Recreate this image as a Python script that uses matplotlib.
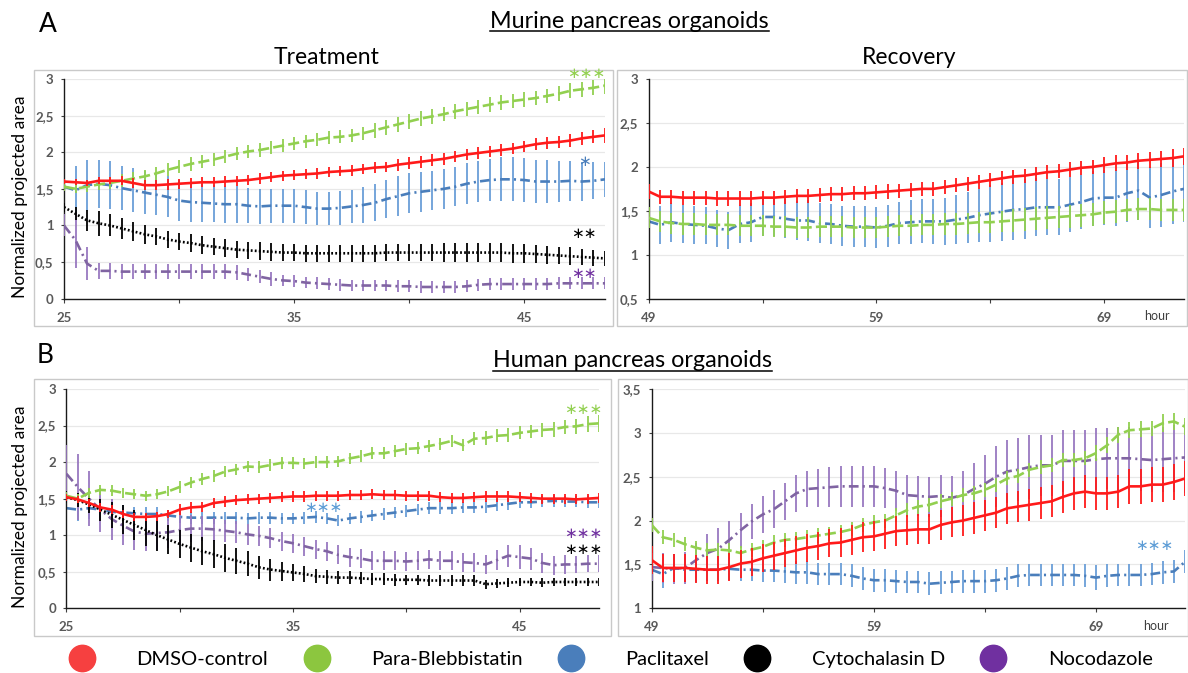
import numpy as np
import matplotlib
matplotlib.use("Agg")
import matplotlib.pyplot as plt
from matplotlib.patches import Rectangle
from matplotlib.lines import Line2D

plt.rcParams['lines.scale_dashes'] = False
plt.rcParams['font.family'] = ['Lato', 'DejaVu Sans']

# ---------------- data ----------------
hours_treat = np.arange(25, 49, 0.5)        # 25 .. 48.5
hours_rec_A = np.arange(49, 73, 0.5)        # 49 .. 72.5
hours_rec_B = np.arange(49, 73.5, 0.5)      # 49 .. 73

series_names = ["DMSO-control", "Para-Blebbistatin", "Paclitaxel", "Cytochalasin D", "Nocodazole"]

# ---- A: murine, treatment ----
A_t_dmso = [1.60,1.59,1.58,1.61,1.61,1.61,1.58,1.55,1.55,1.56, 1.57,1.58,1.59,1.59,1.60,1.61,1.62,1.64,1.66,1.68,
            1.69,1.70,1.71,1.73,1.74,1.75,1.77,1.79,1.80,1.83, 1.85,1.87,1.89,1.91,1.94,1.97,1.99,2.01,2.03,2.05,
            2.08,2.11,2.13,2.14,2.16,2.19,2.21,2.23]
A_t_dmso_err = [0.04,0.04,0.04,0.05,0.05,0.06,0.07,0.07,0.07,0.07, 0.07,0.07,0.07,0.07,0.07,0.07,0.07,0.07,0.07,0.07,
                0.07,0.07,0.07,0.07,0.07,0.07,0.07,0.07,0.07,0.08, 0.08,0.08,0.08,0.08,0.08,0.08,0.08,0.08,0.08,0.08,
                0.08,0.08,0.08,0.08,0.09,0.09,0.09,0.10]
A_t_blebb = [1.53,1.50,1.53,1.56,1.58,1.61,1.64,1.67,1.71,1.76, 1.80,1.84,1.87,1.90,1.94,1.98,2.01,2.03,2.06,2.09,
             2.12,2.15,2.17,2.20,2.21,2.23,2.26,2.30,2.34,2.38, 2.42,2.46,2.49,2.52,2.56,2.59,2.62,2.65,2.68,2.70,
             2.72,2.74,2.77,2.80,2.84,2.86,2.88,2.91]
A_t_blebb_err = [0.06,0.06,0.07,0.08,0.08,0.09,0.09,0.09,0.09,0.09, 0.09,0.09,0.09,0.09,0.09,0.09,0.09,0.09,0.09,0.09,
                 0.09,0.09,0.09,0.09,0.09,0.09,0.09,0.10,0.10,0.10, 0.10,0.10,0.10,0.10,0.10,0.10,0.10,0.10,0.10,0.10,
                 0.10,0.10,0.10,0.10,0.10,0.10,0.10,0.11]
A_t_pacli = [1.53,1.48,1.55,1.57,1.55,1.51,1.48,1.45,1.42,1.39, 1.34,1.32,1.31,1.30,1.29,1.29,1.27,1.26,1.27,1.27,
             1.27,1.25,1.23,1.23,1.24,1.26,1.28,1.31,1.36,1.40, 1.44,1.46,1.48,1.50,1.53,1.57,1.60,1.62,1.63,1.63,
             1.62,1.60,1.60,1.60,1.61,1.60,1.61,1.63]
A_t_pacli_err = [0.28,0.33,0.35,0.33,0.33,0.30,0.30,0.29,0.28,0.28, 0.28,0.27,0.26,0.25,0.25,0.25,0.24,0.24,0.23,0.23,
                 0.23,0.23,0.23,0.23,0.23,0.23,0.24,0.25,0.26,0.27, 0.27,0.27,0.27,0.27,0.27,0.28,0.28,0.29,0.30,0.30,
                 0.30,0.30,0.29,0.28,0.27,0.26,0.25,0.24]
A_t_cytoD = [1.25,1.16,1.07,1.03,1.00,0.96,0.92,0.88,0.85,0.81, 0.78,0.76,0.73,0.71,0.69,0.67,0.66,0.65,0.64,0.63,
             0.63,0.62,0.62,0.62,0.62,0.62,0.62,0.62,0.63,0.63, 0.63,0.63,0.63,0.63,0.63,0.63,0.63,0.63,0.63,0.62,
             0.62,0.61,0.60,0.59,0.58,0.57,0.56,0.55]
A_t_cytoD_err = [0.06,0.09,0.14,0.17,0.15,0.14,0.13,0.13,0.12,0.12, 0.12,0.12,0.12,0.12,0.12,0.12,0.12,0.12,0.12,0.12,
                 0.12,0.12,0.12,0.12,0.12,0.12,0.12,0.12,0.12,0.12, 0.12,0.12,0.12,0.13,0.13,0.13,0.13,0.13,0.13,0.13,
                 0.13,0.12,0.12,0.12,0.12,0.11,0.11,0.10]
A_t_noco = [1.00,0.80,0.48,0.38,0.38,0.37,0.37,0.37,0.37,0.37, 0.37,0.37,0.37,0.37,0.37,0.36,0.33,0.30,0.27,0.25,
            0.24,0.22,0.21,0.20,0.19,0.18,0.18,0.18,0.18,0.17, 0.17,0.16,0.16,0.16,0.16,0.17,0.19,0.20,0.20,0.20,
            0.20,0.20,0.20,0.21,0.21,0.21,0.21,0.21]
A_t_noco_err = [0.15,0.38,0.23,0.11,0.11,0.10,0.10,0.10,0.10,0.10, 0.10,0.10,0.10,0.10,0.10,0.10,0.09,0.09,0.09,0.08,
                0.08,0.08,0.08,0.08,0.08,0.08,0.08,0.08,0.08,0.08, 0.08,0.08,0.08,0.08,0.08,0.08,0.08,0.08,0.08,0.08,
                0.08,0.08,0.08,0.08,0.08,0.08,0.08,0.08]

# ---- A: murine, recovery ----
A_r_dmso = [1.72,1.66,1.66,1.65,1.65,1.65,1.64,1.64,1.64,1.64, 1.65,1.65,1.66,1.67,1.67,1.68,1.69,1.69,1.70,1.70,
            1.71,1.72,1.73,1.74,1.75,1.75,1.77,1.79,1.81,1.83, 1.85,1.87,1.89,1.90,1.92,1.94,1.95,1.97,1.99,2.00,
            2.02,2.04,2.05,2.07,2.08,2.09,2.10,2.12]
A_r_dmso_err = [0.09,0.08,0.08,0.08,0.08,0.08,0.08,0.08,0.08,0.08, 0.08,0.08,0.08,0.08,0.08,0.08,0.08,0.08,0.08,0.08,
                0.08,0.08,0.08,0.08,0.08,0.08,0.08,0.08,0.08,0.08, 0.08,0.08,0.08,0.08,0.08,0.08,0.08,0.08,0.08,0.08,
                0.09,0.09,0.09,0.09,0.09,0.09,0.10,0.10]
A_r_blebb = [1.42,1.38,1.36,1.35,1.35,1.34,1.34,1.34,1.33,1.33, 1.33,1.32,1.32,1.31,1.31,1.32,1.32,1.32,1.31,1.31,
             1.31,1.32,1.33,1.33,1.34,1.34,1.35,1.35,1.36,1.37, 1.37,1.38,1.39,1.40,1.41,1.42,1.43,1.44,1.45,1.46,
             1.48,1.49,1.51,1.52,1.52,1.51,1.51,1.51]
A_r_blebb_err = [0.12,0.12,0.12,0.12,0.12,0.12,0.12,0.12,0.12,0.12, 0.12,0.12,0.12,0.12,0.12,0.12,0.12,0.12,0.12,0.12,
                 0.12,0.12,0.12,0.12,0.12,0.12,0.12,0.12,0.12,0.12, 0.12,0.12,0.13,0.13,0.13,0.13,0.13,0.13,0.13,0.13,
                 0.13,0.13,0.13,0.13,0.13,0.13,0.13,0.13]
A_r_pacli = [1.38,1.34,1.37,1.35,1.34,1.33,1.30,1.28,1.35,1.37, 1.43,1.43,1.41,1.39,1.39,1.36,1.35,1.33,1.32,1.32,
             1.31,1.33,1.36,1.37,1.38,1.38,1.38,1.40,1.42,1.45, 1.47,1.49,1.51,1.52,1.54,1.54,1.54,1.57,1.60,1.64,
             1.65,1.65,1.70,1.73,1.65,1.68,1.72,1.75]
A_r_pacli_err = [0.23,0.22,0.22,0.22,0.22,0.21,0.21,0.21,0.22,0.22, 0.22,0.22,0.22,0.22,0.23,0.23,0.23,0.23,0.23,0.23,
                 0.23,0.24,0.24,0.25,0.25,0.26,0.27,0.28,0.29,0.30, 0.32,0.33,0.34,0.34,0.33,0.32,0.32,0.31,0.31,0.31,
                 0.31,0.32,0.33,0.34,0.35,0.36,0.37,0.38]

# ---- B: human, treatment ----
B_t_dmso = [1.52,1.49,1.44,1.38,1.35,1.29,1.25,1.25,1.26,1.29, 1.35,1.38,1.39,1.44,1.46,1.48,1.49,1.50,1.51,1.52,
            1.53,1.53,1.54,1.54,1.54,1.55,1.55,1.56,1.55,1.55, 1.54,1.54,1.54,1.52,1.51,1.51,1.52,1.53,1.53,1.53,
            1.52,1.51,1.50,1.50,1.50,1.49,1.50,1.51]
B_t_dmso_err = [0.05,0.05,0.05,0.06,0.06,0.06,0.06,0.06,0.06,0.06, 0.07,0.07,0.07,0.07,0.07,0.07,0.07,0.07,0.07,0.07,
                0.07,0.07,0.07,0.07,0.07,0.07,0.07,0.07,0.07,0.07, 0.07,0.07,0.07,0.07,0.07,0.07,0.07,0.07,0.07,0.07,
                0.07,0.07,0.07,0.07,0.07,0.07,0.07,0.07]
B_t_blebb = [1.54,1.50,1.58,1.62,1.61,1.58,1.56,1.54,1.56,1.60, 1.66,1.72,1.77,1.81,1.87,1.90,1.94,1.93,1.96,1.99,
             1.99,1.98,2.00,2.00,2.01,2.05,2.08,2.12,2.12,2.15, 2.18,2.19,2.22,2.25,2.29,2.23,2.32,2.33,2.36,2.37,
             2.40,2.42,2.44,2.45,2.48,2.49,2.52,2.53]
B_t_blebb_err = [0.05,0.06,0.07,0.07,0.07,0.07,0.07,0.07,0.07,0.07, 0.08,0.08,0.08,0.08,0.08,0.08,0.08,0.08,0.08,0.08,
                 0.08,0.08,0.08,0.08,0.08,0.08,0.08,0.08,0.08,0.08, 0.08,0.08,0.08,0.08,0.08,0.08,0.09,0.09,0.09,0.09,
                 0.09,0.09,0.10,0.10,0.10,0.10,0.11,0.12]
B_t_pacli = [1.37,1.35,1.37,1.35,1.32,1.31,1.30,1.29,1.29,1.27, 1.25,1.24,1.24,1.24,1.24,1.24,1.23,1.24,1.24,1.23,
             1.23,1.24,1.25,1.23,1.20,1.23,1.25,1.27,1.29,1.31, 1.33,1.35,1.37,1.37,1.37,1.38,1.38,1.39,1.41,1.43,
             1.45,1.45,1.46,1.47,1.46,1.46,1.45,1.45]
B_t_pacli_err = [0.15,0.16,0.15,0.13,0.11,0.10,0.09,0.09,0.09,0.08, 0.08,0.08,0.08,0.08,0.08,0.08,0.08,0.08,0.08,0.08,
                 0.08,0.08,0.08,0.08,0.08,0.08,0.08,0.08,0.08,0.08, 0.08,0.08,0.08,0.08,0.08,0.08,0.08,0.08,0.08,0.08,
                 0.08,0.08,0.08,0.08,0.08,0.08,0.08,0.08]
B_t_cytoD = [1.52,1.48,1.42,1.35,1.28,1.21,1.14,1.07,1.00,0.94, 0.88,0.83,0.78,0.74,0.69,0.65,0.61,0.56,0.53,0.51,
             0.49,0.47,0.44,0.43,0.42,0.42,0.41,0.40,0.40,0.39, 0.39,0.39,0.38,0.38,0.38,0.38,0.38,0.33,0.34,0.35,
             0.36,0.36,0.35,0.36,0.36,0.36,0.36,0.36]
B_t_cytoD_err = [0.08,0.10,0.12,0.15,0.18,0.20,0.21,0.22,0.21,0.20, 0.19,0.19,0.19,0.19,0.19,0.18,0.17,0.16,0.15,0.13,
                 0.12,0.11,0.10,0.10,0.09,0.09,0.08,0.08,0.08,0.08, 0.07,0.07,0.07,0.07,0.07,0.07,0.07,0.06,0.06,0.06,
                 0.06,0.06,0.06,0.06,0.06,0.06,0.06,0.06]
B_t_noco = [1.84,1.66,1.50,1.35,1.22,1.13,1.05,1.02,1.03,1.04, 1.07,1.09,1.09,1.08,1.06,1.04,1.01,0.99,0.96,0.92,
            0.89,0.85,0.81,0.78,0.73,0.70,0.68,0.65,0.65,0.65, 0.64,0.65,0.67,0.65,0.65,0.63,0.62,0.60,0.66,0.72,
            0.70,0.68,0.62,0.59,0.60,0.60,0.61,0.61]
B_t_noco_err = [0.40,0.45,0.38,0.30,0.28,0.26,0.25,0.24,0.23,0.22, 0.20,0.18,0.17,0.16,0.15,0.15,0.15,0.14,0.14,0.13,
                0.13,0.13,0.13,0.13,0.13,0.13,0.13,0.13,0.13,0.13, 0.13,0.13,0.13,0.13,0.13,0.13,0.13,0.13,0.14,0.15,
                0.16,0.15,0.14,0.13,0.13,0.12,0.12,0.12]

# ---- B: human, recovery ----
B_r_dmso = [1.55,1.46,1.46,1.46,1.45,1.44,1.44,1.47,1.51,1.53, 1.57,1.60,1.63,1.66,1.69,1.71,1.74,1.75,1.78,1.81,
            1.82,1.85,1.88,1.89,1.90,1.90,1.95,1.98,2.00,2.03, 2.06,2.09,2.14,2.16,2.18,2.20,2.22,2.27,2.31,2.33,
            2.31,2.31,2.33,2.39,2.39,2.41,2.41,2.44,2.48]
B_r_dmso_err = [0.16,0.16,0.16,0.16,0.16,0.16,0.16,0.16,0.16,0.16, 0.16,0.16,0.16,0.16,0.16,0.16,0.16,0.17,0.17,0.17,
                0.17,0.17,0.17,0.17,0.17,0.17,0.17,0.17,0.18,0.18, 0.18,0.18,0.18,0.18,0.18,0.18,0.18,0.18,0.19,0.19,
                0.19,0.19,0.19,0.20,0.20,0.20,0.20,0.20,0.20]
B_r_blebb = [1.95,1.81,1.78,1.73,1.69,1.66,1.67,1.66,1.63,1.67, 1.70,1.75,1.78,1.79,1.81,1.83,1.85,1.87,1.90,1.95,
             1.98,2.00,2.06,2.12,2.16,2.18,2.22,2.25,2.29,2.31, 2.35,2.41,2.48,2.51,2.58,2.61,2.63,2.69,2.69,2.71,
             2.77,2.86,2.98,3.03,3.04,3.05,3.11,3.13,3.07]
B_r_blebb_err = [0.08,0.08,0.08,0.08,0.08,0.08,0.08,0.08,0.08,0.08, 0.08,0.08,0.08,0.08,0.08,0.08,0.08,0.08,0.08,0.08,
                 0.08,0.08,0.08,0.08,0.08,0.08,0.08,0.08,0.08,0.08, 0.08,0.08,0.08,0.08,0.08,0.08,0.08,0.08,0.08,0.08,
                 0.09,0.09,0.09,0.09,0.09,0.09,0.10,0.10,0.10]
B_r_pacli = [1.44,1.39,1.46,1.44,1.44,1.44,1.44,1.45,1.44,1.44, 1.43,1.43,1.42,1.41,1.41,1.39,1.39,1.39,1.37,1.34,
             1.32,1.32,1.31,1.30,1.30,1.28,1.29,1.30,1.31,1.31, 1.31,1.32,1.34,1.37,1.38,1.38,1.38,1.38,1.38,1.37,
             1.35,1.37,1.38,1.38,1.38,1.39,1.41,1.42,1.53]
B_r_pacli_err = [0.15,0.16,0.14,0.14,0.14,0.13,0.13,0.13,0.13,0.13, 0.13,0.13,0.13,0.13,0.13,0.13,0.13,0.13,0.13,0.13,
                 0.13,0.13,0.13,0.13,0.13,0.13,0.13,0.13,0.13,0.13, 0.13,0.13,0.13,0.13,0.13,0.13,0.13,0.13,0.13,0.13,
                 0.14,0.13,0.13,0.13,0.13,0.13,0.13,0.13,0.13]
B_r_noco = [1.47,1.46,1.45,1.46,1.55,1.63,1.68,1.78,1.89,1.99, 2.07,2.13,2.22,2.31,2.36,2.37,2.38,2.39,2.39,2.39,
            2.39,2.37,2.34,2.29,2.28,2.27,2.28,2.26,2.29,2.36, 2.42,2.50,2.56,2.58,2.61,2.63,2.63,2.68,2.68,2.68,
            2.70,2.71,2.71,2.71,2.70,2.69,2.70,2.71,2.72]
B_r_noco_err = [0.16,0.17,0.17,0.18,0.20,0.22,0.24,0.22,0.20,0.20, 0.21,0.22,0.21,0.21,0.21,0.22,0.23,0.23,0.23,0.23,
                0.23,0.23,0.23,0.23,0.23,0.23,0.24,0.25,0.27,0.30, 0.33,0.35,0.36,0.36,0.36,0.35,0.35,0.35,0.35,0.35,
                0.35,0.35,0.36,0.36,0.36,0.36,0.37,0.38,0.40]

# y-tick labels (comma decimal)
yt_A_treat = ["0", "0,5", "1", "1,5", "2", "2,5", "3"]
yt_A_rec = ["0,5", "1", "1,5", "2", "2,5", "3"]
yt_B_rec = ["1", "1,5", "2", "2,5", "3", "3,5"]

# ---------------- styles ----------------
RED = '#FF1A1A'
GREEN = '#92D050'
BLUE = '#4A7EBB'
BLUE_E = '#6A9ED8'
BLACK = '#000000'
PURPLE = '#8064A2'
PURPLE_E = '#9878C0'
STYLE = {
    'DMSO-control': dict(color=RED, ecolor=RED, dashes=None, z=6),
    'Para-Blebbistatin': dict(color=GREEN, ecolor=GREEN, dashes=(8, 3), z=5),
    'Paclitaxel': dict(color=BLUE, ecolor=BLUE_E, dashes=(7, 3, 1.5, 3), z=2),
    'Cytochalasin D': dict(color=BLACK, ecolor=BLACK, dashes=(1.3, 1.6), z=4),
    'Nocodazole': dict(color=PURPLE, ecolor=PURPLE_E, dashes=(7, 3, 1.5, 3), z=3),
}

W, H = 1188, 673
fig = plt.figure(figsize=(W / 100, H / 100), dpi=100)


def rect(l, t, r, b):
    return [l / W, 1 - b / H, (r - l) / W, (b - t) / H]


def draw_series(ax, x, y, err, name):
    st = STYLE[name]
    ax.errorbar(x, y, yerr=err, fmt='none', ecolor=st['ecolor'], elinewidth=1.3,
                capsize=0, zorder=st['z'])
    ln, = ax.plot(x, y, color=st['color'], lw=1.9, zorder=st['z'] + 0.5,
                  solid_capstyle='butt', dash_capstyle='butt')
    if st['dashes'] is not None:
        ln.set_dashes(st['dashes'])


def setup(ax, xlim, xticks, xlabels, ylim, ylabels):
    ax.set_xlim(*xlim)
    ax.set_ylim(*ylim)
    ax.set_yticks(np.arange(ylim[0], ylim[1] + 0.01, 0.5))
    ax.set_yticklabels(ylabels)
    ax.set_xticks(xticks)
    ax.set_xticklabels(xlabels)
    for s in ['top', 'right']:
        ax.spines[s].set_visible(False)
    for s in ['left', 'bottom']:
        ax.spines[s].set_color('#1a1a1a')
        ax.spines[s].set_linewidth(1.0)
    ax.yaxis.grid(True, color='#E8E8E8', lw=0.9)
    ax.set_axisbelow(True)
    ax.tick_params(axis='x', direction='out', length=3, width=0.8, color='#404040',
                   pad=6.5, labelsize=9.5, labelcolor='#595959')
    ax.tick_params(axis='y', direction='out', length=2, width=0.8, color='#404040',
                   pad=5.5, labelsize=9.5, labelcolor='#595959')
    for lb in ax.get_xticklabels() + ax.get_yticklabels():
        lb.set_fontweight('bold')
    ax.set_facecolor('none')


# ---- panel A treatment ----
axA1 = fig.add_axes(rect(64, 79, 605, 298.7))
setup(axA1, (25, 48.5), [25, 30, 35, 40, 45], ['25', '', '35', '', '45'], (0, 3), yt_A_treat)
draw_series(axA1, hours_treat, A_t_pacli, A_t_pacli_err, 'Paclitaxel')
draw_series(axA1, hours_treat, A_t_noco, A_t_noco_err, 'Nocodazole')
draw_series(axA1, hours_treat, A_t_cytoD, A_t_cytoD_err, 'Cytochalasin D')
draw_series(axA1, hours_treat, A_t_blebb, A_t_blebb_err, 'Para-Blebbistatin')
draw_series(axA1, hours_treat, A_t_dmso, A_t_dmso_err, 'DMSO-control')

# ---- panel A recovery ----
axA2 = fig.add_axes(rect(648.7, 79, 1184, 298.7))
setup(axA2, (49, 72.5), [49, 54, 59, 64, 69], ['49', '', '59', '', '69'], (0.5, 3), yt_A_rec)
draw_series(axA2, hours_rec_A, A_r_pacli, A_r_pacli_err, 'Paclitaxel')
draw_series(axA2, hours_rec_A, A_r_blebb, A_r_blebb_err, 'Para-Blebbistatin')
draw_series(axA2, hours_rec_A, A_r_dmso, A_r_dmso_err, 'DMSO-control')

# ---- panel B treatment ----
axB1 = fig.add_axes(rect(66.4, 389, 599, 608.3))
setup(axB1, (25, 48.5), [25, 30, 35, 40, 45], ['25', '', '35', '', '45'], (0, 3), yt_A_treat)
draw_series(axB1, hours_treat, B_t_pacli, B_t_pacli_err, 'Paclitaxel')
draw_series(axB1, hours_treat, B_t_noco, B_t_noco_err, 'Nocodazole')
draw_series(axB1, hours_treat, B_t_cytoD, B_t_cytoD_err, 'Cytochalasin D')
draw_series(axB1, hours_treat, B_t_blebb, B_t_blebb_err, 'Para-Blebbistatin')
draw_series(axB1, hours_treat, B_t_dmso, B_t_dmso_err, 'DMSO-control')

# ---- panel B recovery ----
axB2 = fig.add_axes(rect(651.7, 389, 1185, 608.3))
setup(axB2, (49, 73), [49, 54, 59, 64, 69], ['49', '', '59', '', '69'], (1, 3.5), yt_B_rec)
draw_series(axB2, hours_rec_B, B_r_pacli, B_r_pacli_err, 'Paclitaxel')
draw_series(axB2, hours_rec_B, B_r_noco, B_r_noco_err, 'Nocodazole')
draw_series(axB2, hours_rec_B, B_r_blebb, B_r_blebb_err, 'Para-Blebbistatin')
draw_series(axB2, hours_rec_B, B_r_dmso, B_r_dmso_err, 'DMSO-control')

# ---------------- overlay (pixel coordinates) ----------------
ov = fig.add_axes([0, 0, 1, 1], zorder=10)
ov.set_xlim(0, W)
ov.set_ylim(H, 0)
ov.axis('off')
ov.patch.set_visible(False)

for (l, t, r, b) in [(34, 70, 613, 325.7), (617.4, 70, 1187, 325.7),
                     (33.6, 379, 611, 635.7), (618, 379, 1187.5, 635.7)]:
    ov.add_patch(Rectangle((l, t), r - l, b - t, fill=False, ec='#C9C9C9', lw=1.0))

ov.text(48, 32, 'A', fontsize=19, ha='center', va='baseline', color='black')
ov.text(45, 363, 'B', fontsize=19, ha='center', va='baseline', color='black')
t1 = ov.text(629.5, 27.5, 'Murine pancreas organoids', fontsize=16.8, ha='center', va='baseline')
t2 = ov.text(632.5, 367, 'Human pancreas organoids', fontsize=16.8, ha='center', va='baseline')
ov.text(326.5, 64, 'Treatment', fontsize=16.5, ha='center', va='baseline')
ov.text(909, 64, 'Recovery', fontsize=16.5, ha='center', va='baseline')

for y0 in (197, 507):
    ov.text(20, y0, 'Normalized projected area', fontsize=12.5, rotation=90,
            ha='center', va='center')

ov.text(1157, 316.5, 'hour', fontsize=9, ha='center', va='center', color='#404040')
ov.text(1156, 626.5, 'hour', fontsize=9, ha='center', va='center', color='#404040')

# significance stars
star_kw = dict(ha='center', va='center', family='DejaVu Sans', fontsize=11)
ov.text(586, 74, '\u2217\u2217\u2217', color=GREEN, **star_kw)
ov.text(584, 161, '\u2217', color=BLUE, **star_kw)
ov.text(584, 233, '\u2217\u2217', color=BLACK, **star_kw)
ov.text(584, 274, '\u2217\u2217', color='#7030A0', **star_kw)
ov.text(583, 410, '\u2217\u2217\u2217', color=GREEN, **star_kw)
ov.text(323, 508, '\u2217\u2217\u2217', color='#5B9BD5', **star_kw)
ov.text(583, 534, '\u2217\u2217\u2217', color='#7030A0', **star_kw)
ov.text(583, 550, '\u2217\u2217\u2217', color=BLACK, **star_kw)
ov.text(1154, 546, '\u2217\u2217\u2217', color='#5B9BD5', **star_kw)

# underline titles
fig.canvas.draw()
renderer = fig.canvas.get_renderer()
inv = ov.transData.inverted()
for t, yline in ((t1, 31.0), (t2, 371.0)):
    bb = t.get_window_extent(renderer)
    (x0, _), (x1, _) = inv.transform([[bb.x0, bb.y0], [bb.x1, bb.y1]])
    ov.add_line(Line2D([x0, x1], [yline, yline], color='black', lw=1.1))

# legend
leg_colors = ['#F64040', '#8CC63F', '#4A7EBB', '#000000', '#7030A0']
handles = [Line2D([], [], ls='', marker='o', ms=19, mfc=c, mec=c) for c in leg_colors]
leg = fig.legend(handles, series_names, loc='center left', bbox_to_anchor=(70 / W, 1 - 659 / H),
                 ncol=5, frameon=False, fontsize=14.5, handletextpad=2.1,
                 columnspacing=1.8, handlelength=1.2, borderpad=0, borderaxespad=0)

fig.savefig('out.png', dpi=100)
